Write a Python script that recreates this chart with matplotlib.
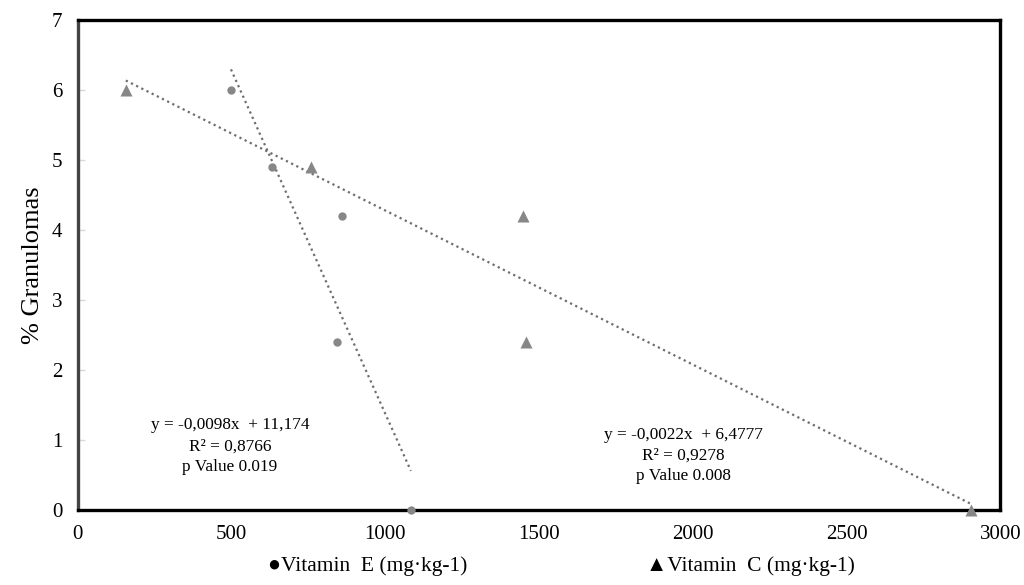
import matplotlib.pyplot as plt
import numpy as np

plt.rcParams['font.family'] = ['Liberation Serif', 'DejaVu Serif']

# Vitamin E (circles)
vitE_x = [498, 631, 859, 843, 1083]
vitE_y = [6.0, 4.9, 4.2, 2.4, 0.0]
# Vitamin C (triangles)
vitC_x = [156, 758, 1448, 1458, 2903]
vitC_y = [6.0, 4.9, 4.2, 2.4, 0.0]

# trend lines (from the equations shown)
slopeE, interE = -0.0098, 11.174
slopeC, interC = -0.0022, 6.4777

grey = '#878787'
line_grey = '#6e6e6e'

fig = plt.figure(figsize=(10.24, 5.85), dpi=100)
ax = fig.add_axes([0.076, 0.128, 0.901, 0.838])

xe = np.array([min(vitE_x), max(vitE_x)])
xc = np.array([min(vitC_x), max(vitC_x)])
ax.plot(xe, slopeE * xe + interE, color=line_grey, lw=1.6, ls=(0, (1, 1.6)), zorder=2)
ax.plot(xc, slopeC * xc + interC, color=line_grey, lw=1.6, ls=(0, (1, 1.6)), zorder=2)

ax.plot(vitE_x, vitE_y, 'o', color=grey, ms=6, mec='none', zorder=3, clip_on=False)
ax.plot(vitC_x, vitC_y, '^', color=grey, ms=9, mec='none', zorder=3, clip_on=False)

ax.set_xlim(0, 3000)
ax.set_ylim(0, 7)
ax.set_xticks(range(0, 3001, 500))
ax.set_yticks(range(0, 8))
ax.tick_params(axis='x', length=0, labelsize=15, pad=11)
ax.tick_params(axis='y', direction='in', length=5, width=1, color='#d8d8d8',
               labelsize=15, pad=11)
for s in ax.spines.values():
    s.set_linewidth(2.4)
    s.set_color('black')
ax.spines['left'].set_color('#444444')

ax.set_ylabel('% Granulomas', fontsize=19, labelpad=6)

ax.text(495, 1.21, 'y = -0,0098x  + 11,174', ha='center', va='center', fontsize=12.4)
ax.text(495, 0.91, 'R² = 0,8766', ha='center', va='center', fontsize=12.4)
ax.text(495, 0.62, 'p Value 0.019', ha='center', va='center', fontsize=12.4)

ax.text(1969, 1.07, 'y = -0,0022x  + 6,4777', ha='center', va='center', fontsize=12.4)
ax.text(1969, 0.78, 'R² = 0,9278', ha='center', va='center', fontsize=12.4)
ax.text(1969, 0.49, 'p Value 0.008', ha='center', va='center', fontsize=12.4)

fig.text(368 / 1024, 1 - 566 / 585, '●Vitamin  E (mg·kg-1)', ha='center', va='center',
         fontsize=15.5, family=['Liberation Serif', 'DejaVu Sans'])
fig.text(750 / 1024, 1 - 566 / 585, '▲Vitamin  C (mg·kg-1)', ha='center', va='center',
         fontsize=15.5, family=['Liberation Serif', 'DejaVu Sans'])

fig.savefig('out.png', dpi=100, facecolor='white')
